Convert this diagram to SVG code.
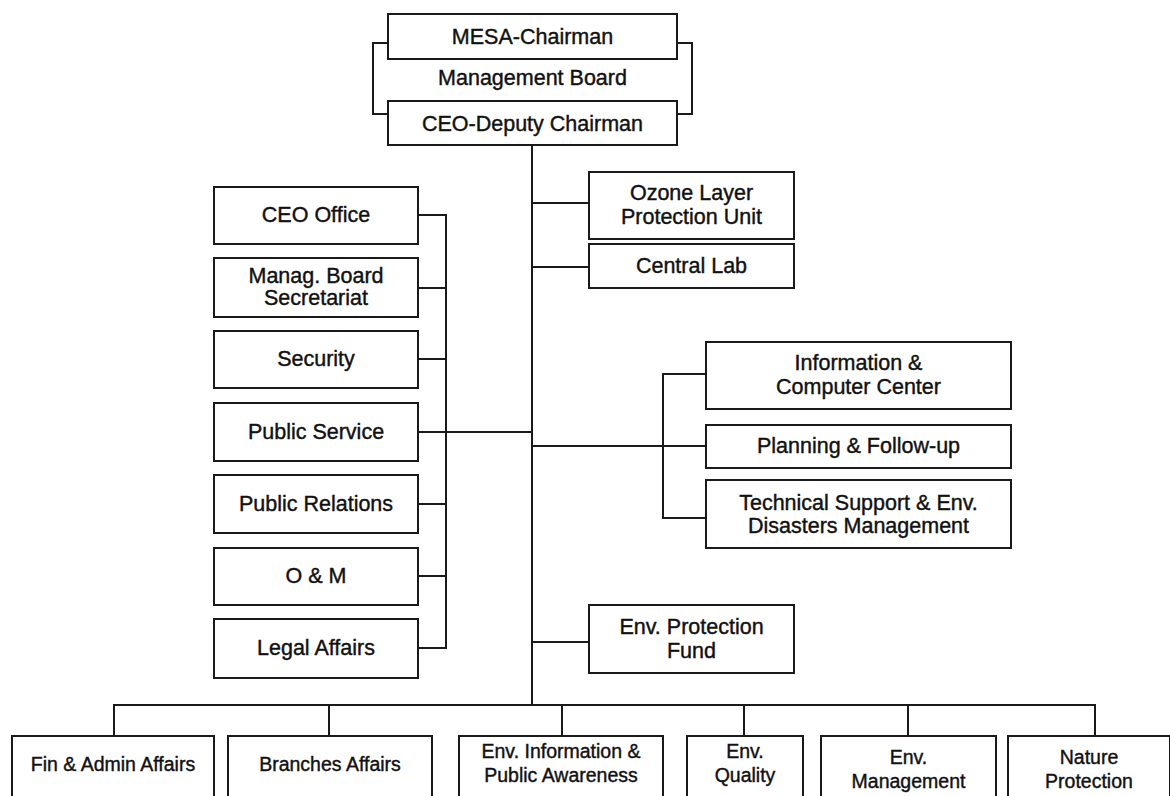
<svg xmlns="http://www.w3.org/2000/svg" width="1170" height="796" viewBox="0 0 1170 796">
<style>
.b{fill:#fff;stroke:#1a1a1a;stroke-width:2}
.c{fill:none;stroke:#1a1a1a;stroke-width:2}
text{font-family:"Liberation Sans",Arial,sans-serif;font-size:21.5px;fill:#111;text-anchor:middle;stroke:#111;stroke-width:0.4}
.s{font-size:19.5px}
</style>
<rect width="1170" height="796" fill="#fff"/>
<g id="connectors">
<path class="c" d="M388,43H373V114H388M677,43H692V114H677"/>
<path class="c" d="M532,145V705"/>
<path class="c" d="M418,215H446V648H418M418,288H446M418,359H446M418,432H532M418,504H446M418,576H446"/>
<path class="c" d="M532,203H589M532,267H589M532,642H589"/>
<path class="c" d="M532,446H706M706,374H663V518H706"/>
<path class="c" d="M114,736V705H1095V736M329,705V736M562,705V736M744,705V736M908,705V736"/>
</g>
<g id="mesa-chairman"><rect class="b" x="388" y="14" width="289" height="45"/><text x="532.5" y="44">MESA-Chairman</text></g>
<g id="management-board"><text x="532.5" y="85">Management Board</text></g>
<g id="ceo-deputy"><rect class="b" x="388" y="101" width="289" height="44"/><text x="532.5" y="131">CEO-Deputy Chairman</text></g>
<g id="ceo-office"><rect class="b" x="214" y="187" width="204" height="57"/><text x="316" y="222">CEO Office</text></g>
<g id="manag-board-secretariat"><rect class="b" x="214" y="258" width="204" height="59"/><text x="316" y="283">Manag. Board</text><text x="316" y="305">Secretariat</text></g>
<g id="security"><rect class="b" x="214" y="331" width="204" height="57"/><text x="316" y="366">Security</text></g>
<g id="public-service"><rect class="b" x="214" y="403" width="204" height="58"/><text x="316" y="439">Public Service</text></g>
<g id="public-relations"><rect class="b" x="214" y="475" width="204" height="58"/><text x="316" y="511">Public Relations</text></g>
<g id="o-m"><rect class="b" x="214" y="548" width="204" height="57"/><text x="316" y="583">O &amp; M</text></g>
<g id="legal-affairs"><rect class="b" x="214" y="619" width="204" height="59"/><text x="316" y="655">Legal Affairs</text></g>
<g id="ozone"><rect class="b" x="589" y="172" width="205" height="67"/><text x="691.5" y="200">Ozone Layer</text><text x="691.5" y="224">Protection Unit</text></g>
<g id="central-lab"><rect class="b" x="589" y="244" width="205" height="44"/><text x="691.5" y="273">Central Lab</text></g>
<g id="info-computer"><rect class="b" x="706" y="342" width="305" height="67"/><text x="858.5" y="370">Information &amp;</text><text x="858.5" y="394">Computer Center</text></g>
<g id="planning"><rect class="b" x="706" y="425" width="305" height="43"/><text x="858.5" y="453">Planning &amp; Follow-up</text></g>
<g id="tech-support"><rect class="b" x="706" y="480" width="305" height="68"/><text x="858.5" y="510">Technical Support &amp; Env.</text><text x="858.5" y="533">Disasters Management</text></g>
<g id="env-fund"><rect class="b" x="589" y="605" width="205" height="68"/><text x="691.5" y="634">Env. Protection</text><text x="691.5" y="658">Fund</text></g>
<g id="fin-admin"><rect class="b" x="12" y="736" width="202" height="66"/><text class="s" x="113" y="771">Fin &amp; Admin Affairs</text></g>
<g id="branches"><rect class="b" x="228" y="736" width="204" height="66"/><text class="s" x="330" y="771">Branches Affairs</text></g>
<g id="env-info"><rect class="b" x="459" y="736" width="204" height="66"/><text class="s" x="561" y="758">Env. Information &amp;</text><text class="s" x="561" y="782">Public Awareness</text></g>
<g id="env-quality"><rect class="b" x="687" y="736" width="116" height="66"/><text class="s" x="745" y="758">Env.</text><text class="s" x="745" y="782">Quality</text></g>
<g id="env-management"><rect class="b" x="821" y="736" width="175" height="66"/><text class="s" x="908.5" y="764">Env.</text><text class="s" x="908.5" y="788">Management</text></g>
<g id="nature"><rect class="b" x="1008" y="736" width="162" height="66"/><text class="s" x="1089" y="764">Nature</text><text class="s" x="1089" y="788">Protection</text></g>
</svg>
